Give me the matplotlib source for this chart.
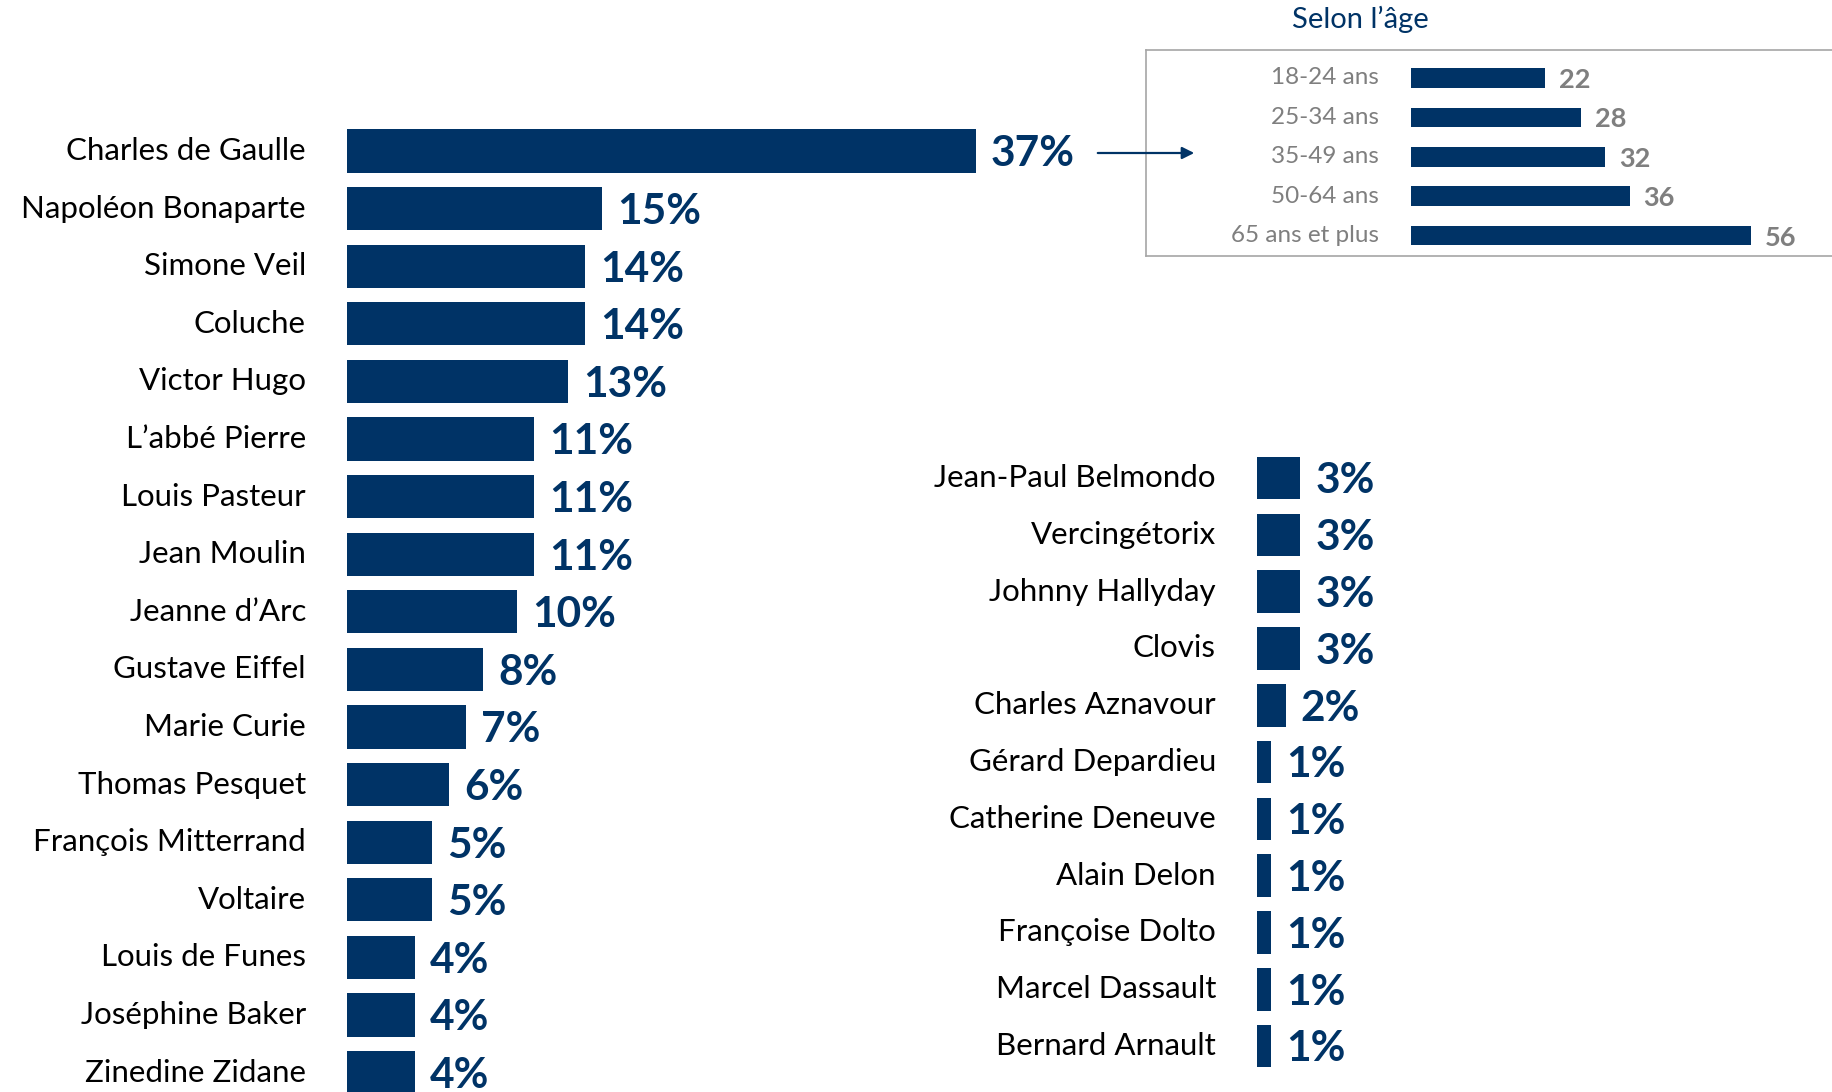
import matplotlib
matplotlib.use("Agg")
import matplotlib.pyplot as plt
from matplotlib.patches import FancyArrowPatch

plt.rcParams['font.family'] = ['Lato', 'DejaVu Sans']

navy = '#003366'
grey = '#7f7f7f'

# left column
names_left = ['Charles de Gaulle', 'Napoléon Bonaparte', 'Simone Veil', 'Coluche',
              'Victor Hugo', "L\u2019abbé Pierre", 'Louis Pasteur', 'Jean Moulin',
              "Jeanne d\u2019Arc", 'Gustave Eiffel', 'Marie Curie', 'Thomas Pesquet',
              'François Mitterrand', 'Voltaire', 'Louis de Funes', 'Joséphine Baker',
              'Zinedine Zidane']
values_left = [37, 15, 14, 14, 13, 11, 11, 11, 10, 8, 7, 6, 5, 5, 4, 4, 4]

# right column
names_right = ['Jean-Paul Belmondo', 'Vercingétorix', 'Johnny Hallyday', 'Clovis',
               'Charles Aznavour', 'Gérard Depardieu', 'Catherine Deneuve',
               'Alain Delon', 'Françoise Dolto', 'Marcel Dassault', 'Bernard Arnault']
values_right = [3, 3, 3, 3, 2, 1, 1, 1, 1, 1, 1]

# inset: de Gaulle by age group
age_groups = ['18-24 ans', '25-34 ans', '35-49 ans', '50-64 ans', '65 ans et plus']
age_values = [22, 28, 32, 36, 56]

W, H = 1833, 1092
fig = plt.figure(figsize=(W / 100, H / 100), dpi=100)


def px_axes(x0, y0, x1, y1):
    # axes from image pixel box (top-left origin)
    return fig.add_axes([x0 / W, 1 - y1 / H, (x1 - x0) / W, (y1 - y0) / H])


def hbar_panel(ax, names, vals, ppu, gap_px, lab_px, val_fs):
    ax.barh(range(len(vals)), vals, height=0.75, color=navy)
    for i, (n, v) in enumerate(zip(names, vals)):
        ax.text(-lab_px / ppu, i, n, ha='right', va='center', fontsize=22.5,
                color='black')
        ax.text(v + gap_px / ppu, i + 0.06, f'{v}%', ha='left', va='center',
                fontsize=val_fs, fontweight='bold', color=navy)
    ax.axis('off')


# left panel: bars start at x=347, 17 px per %, rows every 57.6 px from y=151
ppu_l = 17.0
ax1 = px_axes(347, 0, 347 + 50 * ppu_l, H)
hbar_panel(ax1, names_left, values_left, ppu_l, 15, 41, 30.5)
ax1.set_xlim(0, 50)
ax1.set_ylim((H - 151) / 57.6, -151 / 57.6)

# right panel: bars start at x=1257, 14.4 px per %, rows every 56.8 px from y=478
ppu_r = 14.4
ax2 = px_axes(1257, 0, 1257 + 20 * ppu_r, H)
hbar_panel(ax2, names_right, values_right, ppu_r, 15, 41, 30.5)
ax2.set_xlim(0, 20)
ax2.set_ylim((H - 478) / 56.8, -478 / 56.8)

# inset box
ppu_i = 6.07
x_left, x_right = 1146, 1845
ax3 = px_axes(x_left, 50, x_right, 256)
ax3.barh(range(len(age_values)), age_values, height=0.5, color=navy)
for i, (g, v) in enumerate(zip(age_groups, age_values)):
    ax3.text(-32 / ppu_i, i, g, ha='right', va='center', fontsize=17.5, color=grey)
    ax3.text(v + 14 / ppu_i, i + 0.05, str(v), ha='left', va='center', fontsize=19.5,
             fontweight='bold', color=grey)
ax3.set_xlim((x_left - 1411) / ppu_i, (x_right - 1411) / ppu_i)
ax3.set_ylim((256 - 78) / 39.4, (50 - 78) / 39.4)
ax3.set_xticks([])
ax3.set_yticks([])
for s in ax3.spines.values():
    s.set_color('#a6a6a6')
    s.set_linewidth(1.2)

fig.text(1360 / W, 1 - 19 / H, 'Selon l\u2019âge', ha='center', va='center',
         fontsize=21, color=navy)

arrow = FancyArrowPatch((1095, H - 153), (1197, H - 153), transform=None,
                        arrowstyle='-|>', mutation_scale=18, color=navy, lw=1.6)
fig.add_artist(arrow)

fig.savefig('out.png', dpi=100)
